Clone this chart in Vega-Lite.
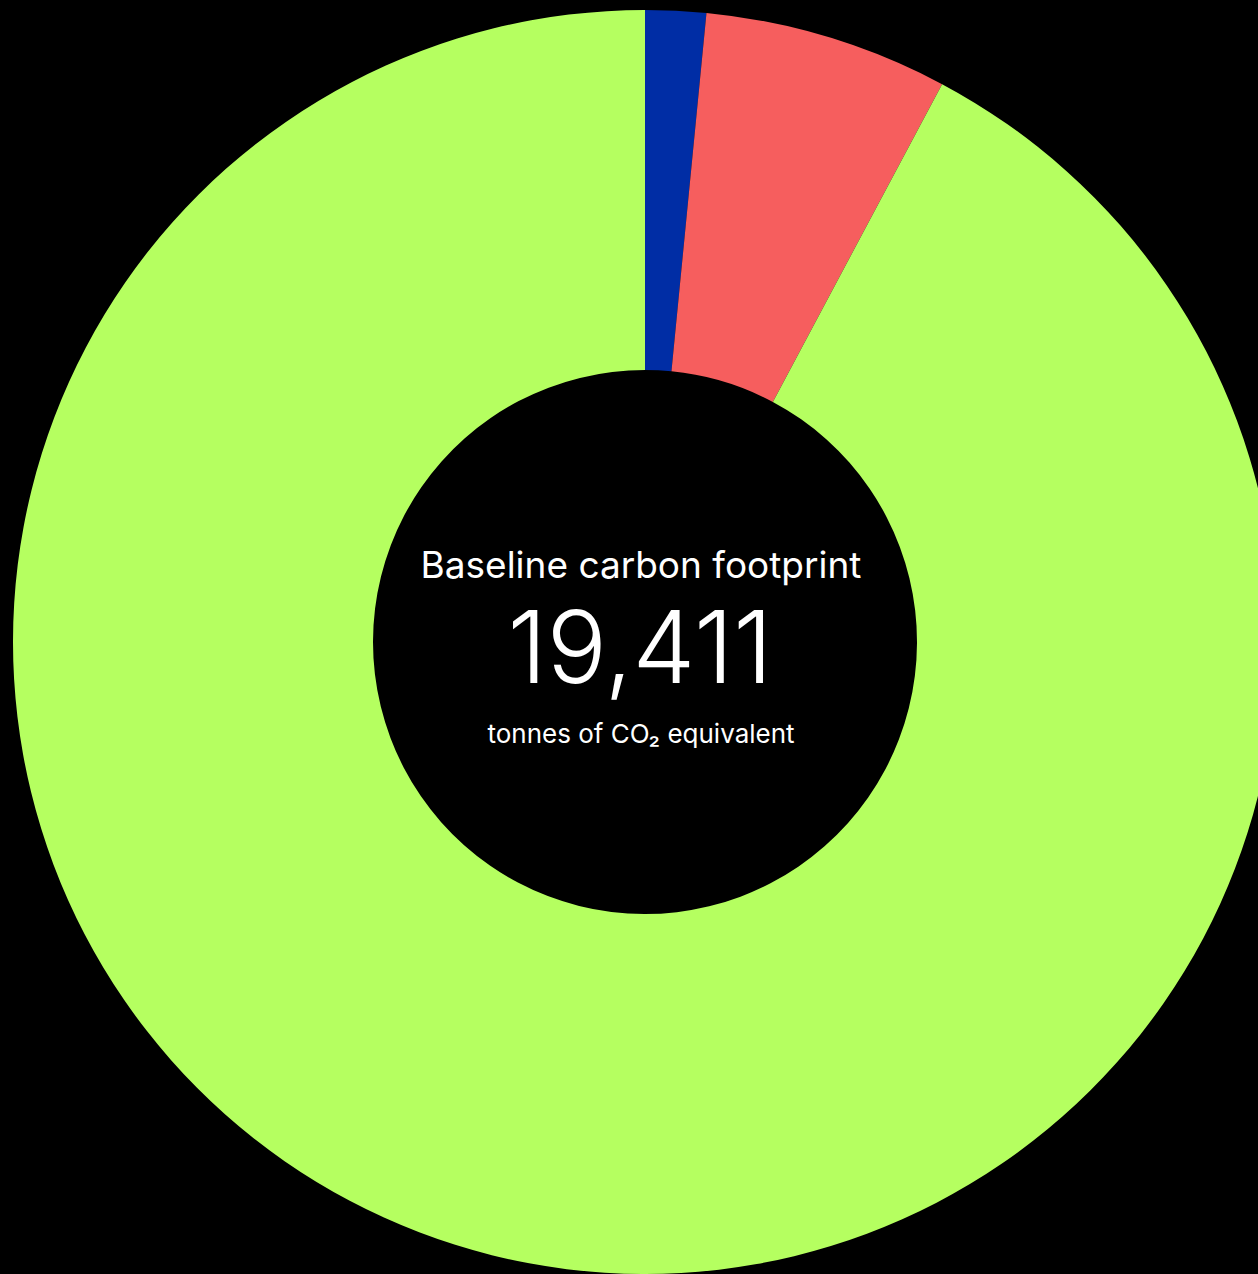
{
  "$schema": "https://vega.github.io/schema/vega-lite/v6.json",
  "width": 1290,
  "height": 1284,
  "padding": 0,
  "autosize": {"type": "none"},
  "background": "#000000",
  "config": {"view": {"stroke": null}},
  "layer": [
    {
      "data": {"values": [
        {"category": "A", "order": 1, "tonnes": 301},
        {"category": "B", "order": 2, "tonnes": 1211},
        {"category": "C", "order": 3, "tonnes": 17899}
      ]},
      "mark": {"type": "arc", "outerRadius": 632, "innerRadius": 272, "stroke": null},
      "encoding": {
        "theta": {"field": "tonnes", "type": "quantitative", "stack": true},
        "order": {"field": "order", "type": "quantitative"},
        "color": {
          "field": "category", "type": "nominal", "legend": null,
          "scale": {"domain": ["A", "B", "C"], "range": ["#002DA5", "#F65E5E", "#B5FF60"]}
        }
      }
    },
    {
      "data": {"values": [{"label": "Baseline carbon footprint"}]},
      "mark": {"type": "text", "font": "Inter", "fontSize": 37, "fontWeight": 400, "color": "#ffffff", "align": "center", "baseline": "alphabetic", "dx": -4, "dy": -64},
      "encoding": {"text": {"field": "label", "type": "nominal"}}
    },
    {
      "data": {"values": [{"label": "19,411"}]},
      "mark": {"type": "text", "font": "Inter", "fontSize": 100, "fontWeight": 300, "color": "#ffffff", "align": "center", "baseline": "alphabetic", "dx": -5, "dy": 41, "letterSpacing": -4},
      "encoding": {"text": {"field": "label", "type": "nominal"}}
    },
    {
      "data": {"values": [{"label": "tonnes of CO₂ equivalent"}]},
      "mark": {"type": "text", "font": "Inter", "fontSize": 26, "fontWeight": 400, "color": "#ffffff", "align": "center", "baseline": "alphabetic", "dx": -4, "dy": 101},
      "encoding": {"text": {"field": "label", "type": "nominal"}}
    }
  ]
}
